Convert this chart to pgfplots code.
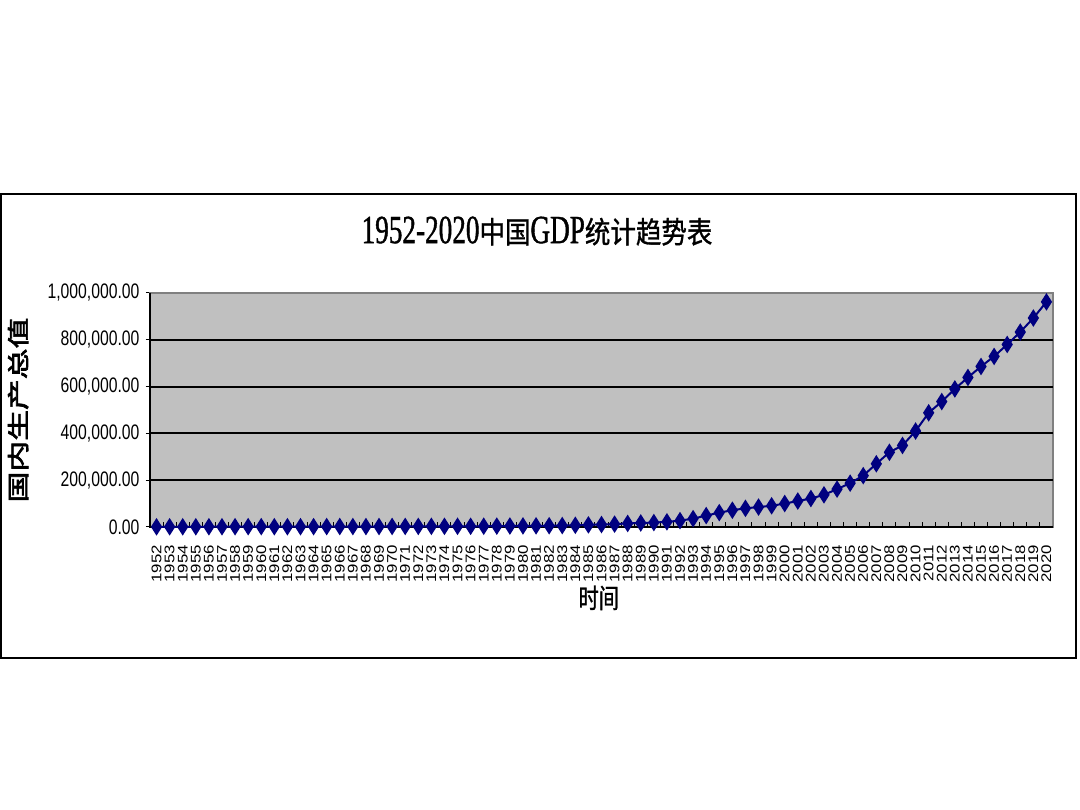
\documentclass[border=0pt]{standalone}
\usepackage{fontspec}
\usepackage{pgfplots}
\usepackage{pgfplotstable}
\pgfplotsset{compat=1.18}
\setmainfont{Liberation Sans}
\newfontfamily\ytickfont[FakeStretch=0.75]{Liberation Sans}
\newfontfamily\xtickfont[FakeStretch=1.2]{Liberation Sans}
\newfontfamily\titlelatin[FakeStretch=0.68,FakeBold=1]{Liberation Serif}
\newfontfamily\titlecjk[FakeStretch=0.85,FakeBold=1]{Noto Sans CJK SC}
\newfontfamily\ylabelfont[FakeStretch=1.4,FakeBold=3]{Noto Sans CJK SC}
\newfontfamily\xlabelfont[FakeStretch=0.75,FakeBold=1]{Noto Sans CJK SC}

\definecolor{navyline}{RGB}{0,0,128}
\definecolor{plotgray}{RGB}{192,192,192}
\definecolor{bordergray}{RGB}{128,128,128}

% GDP, 100 million yuan
\pgfplotstableread{
year gdp
1952 679
1953 824
1954 860
1955 912
1956 1031
1957 1071
1958 1312
1959 1448
1960 1470
1961 1232
1962 1162
1963 1248
1964 1470
1965 1734
1966 1889
1967 1794
1968 1744
1969 1962
1970 2280
1971 2457
1972 2552
1973 2756
1974 2828
1975 3040
1976 2989
1977 3250
1978 3679
1979 4101
1980 4588
1981 4936
1982 5373
1983 6021
1984 7279
1985 9099
1986 10376
1987 12175
1988 15180
1989 17180
1990 18873
1991 22006
1992 27195
1993 35673
1994 48638
1995 61340
1996 71814
1997 79715
1998 85196
1999 90564
2000 100280
2001 110863
2002 121717
2003 137422
2004 161840
2005 187319
2006 219439
2007 270092
2008 319245
2009 348518
2010 410000
2011 487940
2012 536000
2013 590000
2014 639000
2015 686000
2016 729000
2017 780000
2018 833000
2019 893000
2020 962000
}\gdpdata

\begin{document}
\begin{tikzpicture}
\useasboundingbox (0pt,0pt) rectangle (1080pt,810pt);
\fill[white] (0pt,0pt) rectangle (1080pt,810pt);
\draw[line width=2pt, black] (1pt,152pt) rectangle (1076pt,616pt);
\begin{axis}[
    at={(150pt,283pt)}, anchor=south west,
    width=903pt, height=234pt, scale only axis,
    xmin=1951.5, xmax=2020.5,
    ymin=0, ymax=1000000,
    clip=false,
    axis background/.style={fill=plotgray},
    axis line style={bordergray, line width=1.5pt},
    xtick pos=bottom, ytick pos=left,
    tick align=outside,
    major tick length=4pt,
    minor tick length=5pt,
    xtick={1952,...,2020},
    xticklabels={1952,1953,1954,1955,1956,1957,1958,1959,1960,1961,1962,1963,1964,1965,1966,1967,1968,1969,1970,1971,1972,1973,1974,1975,1976,1977,1978,1979,1980,1981,1982,1983,1984,1985,1986,1987,1988,1989,1990,1991,1992,1993,1994,1995,1996,1997,1998,1999,2000,2001,2002,2003,2004,2005,2006,2007,2008,2009,2010,2011,2012,2013,2014,2015,2016,2017,2018,2019,2020},
    major x tick style={draw=none},
    minor xtick={1951.5,1952.5,...,2020.5},
    minor x tick style={black, line width=1pt, yshift=5pt},
    ytick={0,200000,400000,600000,800000,1000000},
    yticklabels={0.00,{200,000.00},{400,000.00},{600,000.00},{800,000.00},{1,000,000.00}},
    scaled y ticks=false,
    major y tick style={black, line width=1pt},
    extra y ticks={200000,400000,600000,800000},
    extra y tick labels={},
    extra y tick style={grid=major},
    major grid style={black, line width=2pt},
    yticklabel style={font=\ytickfont\fontsize{21}{21}\selectfont},
    yticklabel shift=3pt,
    xticklabel style={font=\xtickfont\fontsize{14}{14}\selectfont, rotate=90, anchor=east, inner sep=0pt},
    xticklabel shift=14pt,
    title={{\titlelatin\fontsize{40}{40}\selectfont 1952-2020}{\titlecjk\fontsize{30}{30}\selectfont 中国}{\titlelatin\fontsize{40}{40}\selectfont GDP}{\titlecjk\fontsize{30}{30}\selectfont 统计趋势表}},
    title style={at={(axis description cs:0.4286,1.239)}, anchor=center},
    xlabel={时间},
    xlabel style={font=\xlabelfont\fontsize{27}{27}\selectfont, at={(axis description cs:0.497,-0.303)}, anchor=center},
    ylabel={国内生产总值},
    ylabel style={font=\ylabelfont\fontsize{22}{22}\selectfont, at={(axis description cs:-0.146,0.5)}, anchor=center},
]
\draw[black, line width=2pt] (rel axis cs:0,1) -- (rel axis cs:0,0) -- (rel axis cs:1,0);
\addplot[navyline, line width=2pt, mark=diamond*, mark size=7pt,
    mark options={xscale=0.85, solid, fill=navyline}]
    table[x=year, y=gdp] {\gdpdata};
\end{axis}
\end{tikzpicture}
\end{document}
